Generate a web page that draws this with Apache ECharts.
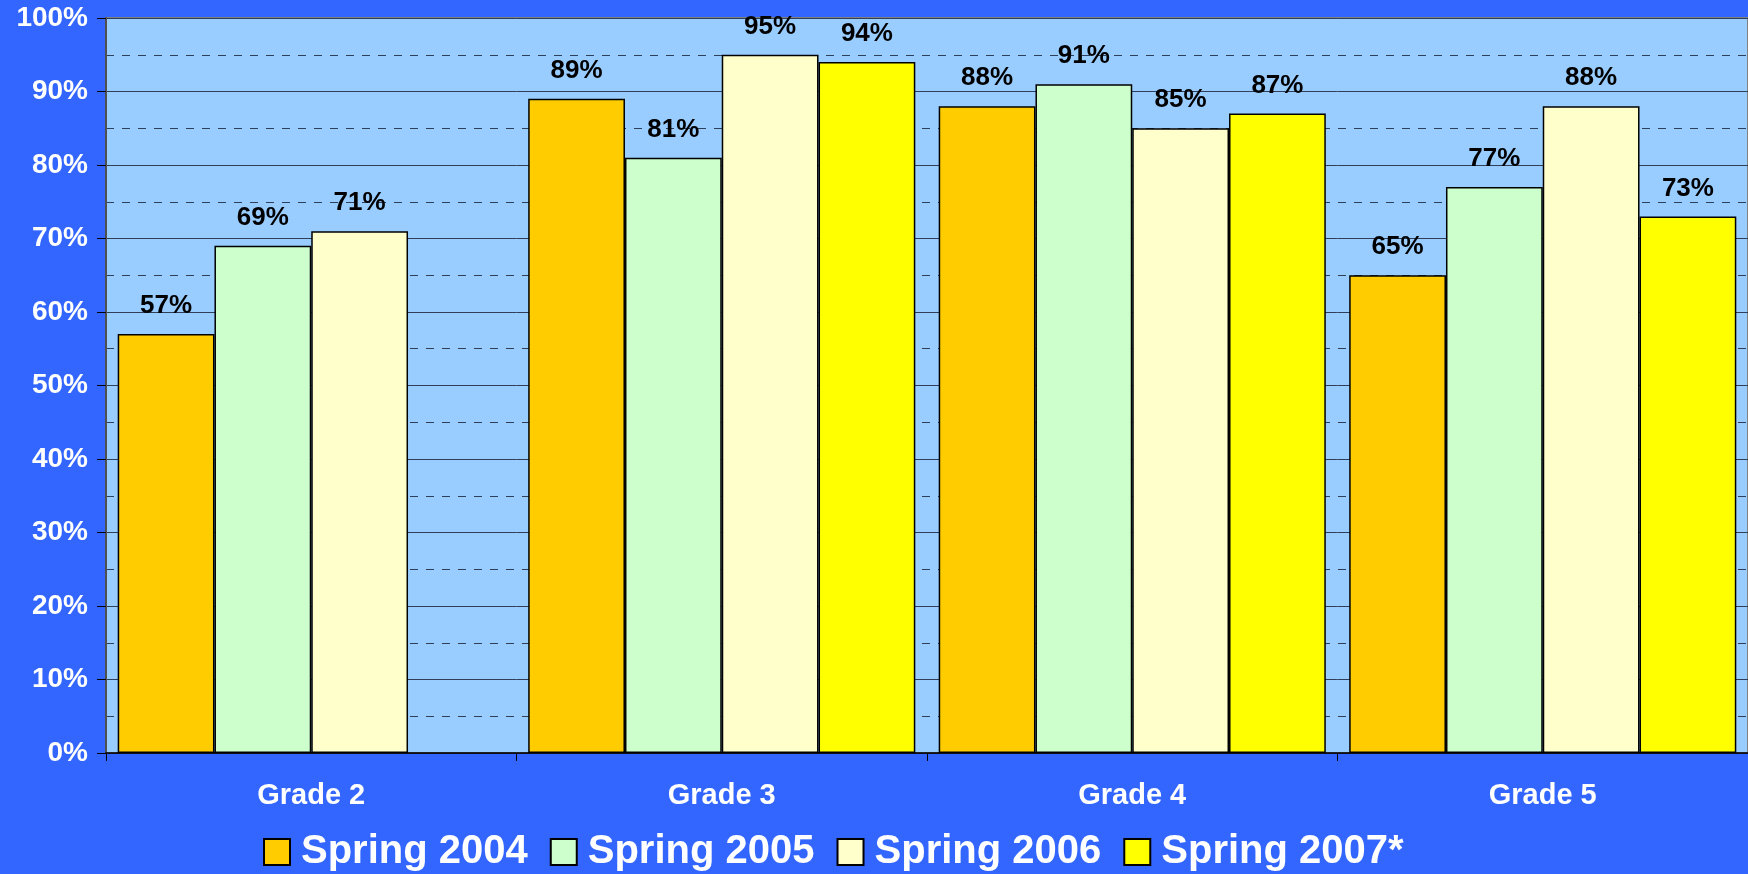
<!DOCTYPE html>
<html>
<head>
<meta charset="utf-8">
<script src="https://cdn.jsdelivr.net/npm/echarts@6/dist/echarts.min.js"></script>
<style>
  html, body { margin: 0; padding: 0; background: #3366FF; }
  #chart { width: 1748px; height: 874px; }
</style>
</head>
<body>
<div id="chart"></div>
<script>
// Grades on the category axis
const grades = ['Grade 2', 'Grade 3', 'Grade 4', 'Grade 5'];

// Percent of students per testing season (Grade 2 has no 2007 result)
const spring2004 = [57, 89, 88, 65];
const spring2005 = [69, 81, 91, 77];
const spring2006 = [71, 95, 85, 88];
const spring2007 = [null, 94, 87, 73];

const seasonNames = ['Spring 2004', 'Spring 2005', 'Spring 2006', 'Spring 2007*'];
const seasonColors = ['#FFCC00', '#CCFFCC', '#FFFFCC', '#FFFF00'];
const seasonValues = [spring2004, spring2005, spring2006, spring2007];

const fontFamily = '"Liberation Sans", Arial, Helvetica, sans-serif';

const chart = echarts.init(document.getElementById('chart'), null, { renderer: 'canvas' });

const series = seasonNames.map((name, i) => ({
  name: name,
  type: 'bar',
  data: seasonValues[i],
  barGap: '0%',
  barCategoryGap: '5.7%',
  itemStyle: { color: seasonColors[i], borderColor: '#000000', borderWidth: 1.5 },
  label: {
    show: true,
    position: 'top',
    distance: 15,
    formatter: p => p.value + '%',
    color: '#000000',
    fontFamily: fontFamily,
    fontWeight: 'bold',
    fontSize: 26
  }
}));

chart.setOption({
  backgroundColor: '#3366FF',
  animation: false,
  grid: {
    left: 106,
    right: -2,
    top: 18,
    bottom: 121,
    show: true,
    backgroundColor: '#99CCFF',
    borderColor: '#808080',
    borderWidth: 2
  },
  legend: {
    left: 263,
    top: 832,
    padding: 0,
    itemWidth: 26,
    itemHeight: 26,
    itemGap: 22,
    icon: 'rect',
    itemStyle: { borderColor: '#000000', borderWidth: 2 },
    textStyle: {
      color: '#FFFFFF',
      fontFamily: fontFamily,
      fontWeight: 'bold',
      fontSize: 40,
      padding: [0, 0, 0, 6]
    },
    data: seasonNames
  },
  xAxis: {
    type: 'category',
    data: grades,
    axisLine: { show: true, lineStyle: { color: '#000000', width: 1.5 } },
    axisTick: { show: true, length: 8, lineStyle: { color: '#000000' } },
    axisLabel: {
      color: '#FFFFFF',
      fontFamily: fontFamily,
      fontWeight: 'bold',
      fontSize: 29,
      margin: 28
    }
  },
  yAxis: {
    type: 'value',
    min: 0,
    max: 100,
    interval: 10,
    axisLine: { show: true, lineStyle: { color: '#505050', width: 2 } },
    axisTick: { show: true, length: 9, lineStyle: { color: '#000000' } },
    axisLabel: {
      formatter: '{value}%',
      color: '#FFFFFF',
      fontFamily: fontFamily,
      fontWeight: 'bold',
      fontSize: 28,
      margin: 18
    },
    splitLine: { show: true, lineStyle: { color: '#2F3F5A', width: 1 } },
    minorTick: { show: false, splitNumber: 2 },
    minorSplitLine: {
      show: true,
      lineStyle: { color: '#2F3F5A', width: 1, type: [8, 8] }
    }
  },
  series: series
});
</script>
</body>
</html>
